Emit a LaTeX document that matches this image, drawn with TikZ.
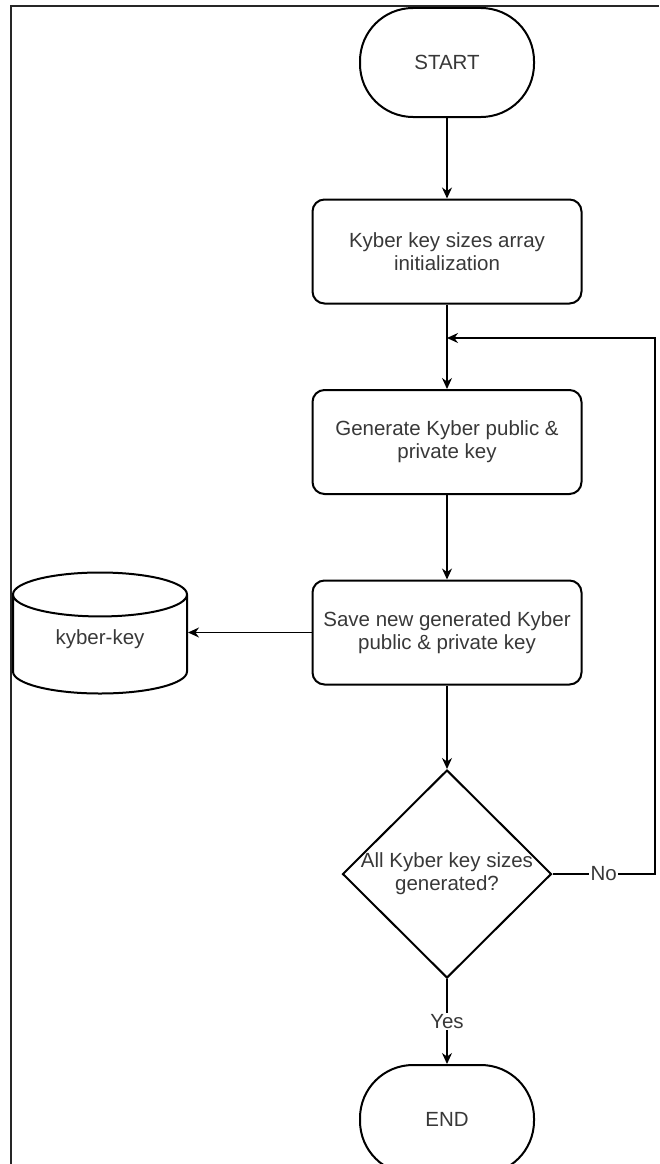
\documentclass[tikz,border=0pt]{standalone}
\usepackage{fontspec}
\setmainfont{Liberation Sans}
\usetikzlibrary{arrows.meta, shapes.geometric}

\begin{document}
\begin{tikzpicture}[x=1pt, y=-1pt,
  font=\fontsize{20.5}{23}\selectfont,
  terminal/.style={draw, line width=2pt, rounded corners=53pt, minimum width=174pt, minimum height=109pt, text=black!78},
  process/.style={draw, line width=2pt, rounded corners=12pt, minimum width=269pt, minimum height=104pt, align=center, text=black!78},
  decision/.style={draw, diamond, line width=2pt, minimum width=209pt, minimum height=208pt, inner xsep=-8pt, inner ysep=0pt, align=center, text=black!78},
  store/.style={draw, cylinder, shape border rotate=90, aspect=0.46, line width=2pt, minimum width=174pt, minimum height=121pt, text depth=20pt, text=black!78},
  flow/.style={-{Stealth[length=11pt, width=10pt]}, line width=1.3pt},
  lbl/.style={fill=white, inner sep=1.5pt, text=black!78}]
\clip (0,0) rectangle (659,1164);
% page frame
\draw[line width=1.5pt, black!85] (11,1164) -- (11,6) -- (659,6);

\node[terminal] (start) at (447,62.5) {START};
\node[process] (init) at (447,251.5) {Kyber key sizes array\\initialization};
\node[process] (gen) at (447,442) {Generate Kyber public \&\\private key};
\node[process] (save) at (447,632.5) {Save new generated Kyber\\public \& private key};
\node[store] (keydb) at (100,647.5) {kyber-key};
\node[decision] (check) at (447,874) {All Kyber key sizes\\generated?};
\node[terminal] (stop) at (447,1119.5) {END};
\coordinate (merge) at (447,338);

\draw[flow] (start) -- (init);
\draw[flow] (init) -- (gen);
\draw[flow] (gen) -- (save);
\draw[flow] (save.west) -- (save.west -| keydb.east);
\draw[flow] (save) -- (check);
\draw[flow] (check) -- node[lbl] {Yes} (stop);
\draw[flow] (check.east) -- node[lbl] {No} (655,874) |- (merge);
\end{tikzpicture}
\end{document}
